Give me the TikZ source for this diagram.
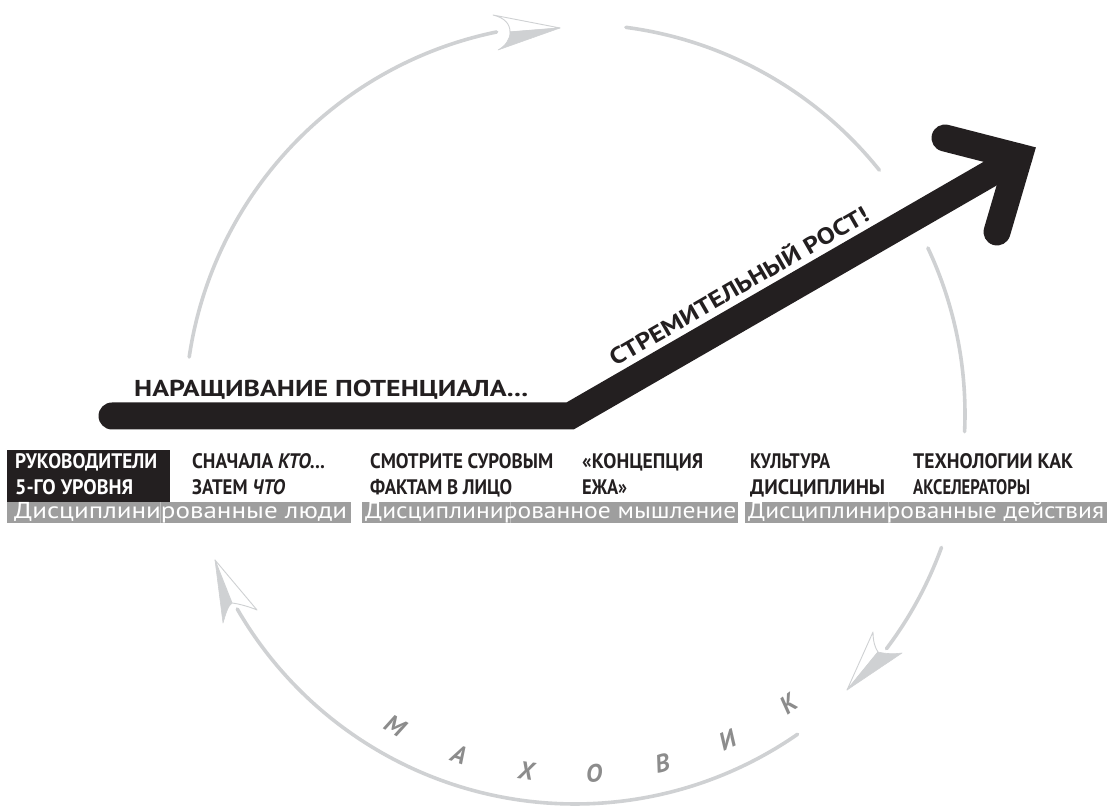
\documentclass[tikz,border=0pt]{standalone}
\usepackage{fontspec}
\setmainfont{PT Sans}
\usepackage{graphicx}
\definecolor{arcgray}{HTML}{CFD1D3}
\definecolor{bargray}{HTML}{9E9E9E}
\definecolor{lettergray}{HTML}{8C8C8C}
\definecolor{ink}{HTML}{231F20}
\newcommand\fitw[2]{\resizebox{#1pt}{\height}{#2}}
\begin{document}
\begin{tikzpicture}[x=1pt,y=1pt,
  flyarc/.style={draw=arcgray, line width=3.6pt, line cap=round},
  headfill/.style={fill=arcgray, draw=arcgray, line width=0.6pt, line join=round},
  headline/.style={draw=arcgray, line width=0.9pt, line join=round, fill=white},
  lab/.style={anchor=base west, inner sep=0pt, font=\bfseries\fontsize{21}{21}\selectfont, text=ink},
  wlab/.style={lab, text=white},
  bartext/.style={anchor=base west, inner sep=0pt, font=\fontsize{23}{23}\selectfont, text=white},
  barbox/.style={fill=bargray, draw=none},
  seam/.style={draw=white, line width=0.8pt, opacity=0.35},
  mletter/.style={inner sep=0pt, font=\bfseries\itshape\fontsize{25}{25}\selectfont, text=lettergray},
  bigarrow/.style={draw=ink, line width=27pt},
]
\useasboundingbox (0,0) rectangle (1107,805);

% ---------- flywheel circle ----------
\coordinate (C) at (575,391);
\path (C) ++(171.6:390) coordinate (a1s);
\path (C) ++(82.5:390) coordinate (a2s);
\path (C) ++(25.2:390) coordinate (a3s);
\path (C) ++(-20:390) coordinate (a4s);
\path (C) ++(-55.2:390) coordinate (a5s);
\draw[flyarc] (a1s) arc[start angle=171.6, end angle=101.6, radius=390];
\draw[flyarc] (a2s) arc[start angle=82.5, end angle=38.7, radius=390];
\draw[flyarc] (a3s) arc[start angle=25.2, end angle=-2.6, radius=390];
\draw[flyarc] (a4s) arc[start angle=-20, end angle=-37, radius=390];
\draw[flyarc] (a5s) arc[start angle=-55.2, end angle=-150, radius=390];

% top arrowhead
\coordinate (t1) at (560,777); \coordinate (u1) at (493,790);
\coordinate (n1) at (510,773); \coordinate (l1) at (498,755);
\path[headline] (t1) -- (u1) .. controls (505,787) and (510,781) .. (n1) -- cycle;
\path[headfill] (t1) -- (n1) .. controls (510,765) and (505,759) .. (l1) -- cycle;

% left arrowhead
\coordinate (t2) at (215,245); \coordinate (l2) at (223,182);
\coordinate (n2) at (232,202); \coordinate (r2) at (257,195);
\path[headfill] (t2) -- (l2) .. controls (226,192) and (228,199) .. (n2) -- cycle;
\path[headline] (t2) -- (n2) .. controls (240,201) and (250,198) .. (r2) -- cycle;

% lower right arrowhead
\coordinate (t3) at (847,115); \coordinate (a3) at (873,173);
\coordinate (n3) at (878,153); \coordinate (b3) at (902,152);
\path[headline] (t3) -- (a3) .. controls (873,164) and (875,157) .. (n3) -- cycle;
\path[headfill] (t3) -- (n3) .. controls (886,151) and (895,151) .. (b3) -- cycle;

% letters
\foreach \ch/\ang [count=\i] in {М/-120, А/-108.8, Х/-97.8, О/-87, В/-76, И/-65, К/-53.7}
  \node[mletter, rotate=\ang+90] (m\i) at ([shift={(\ang:360)}]C) {\ch};

% ---------- big black arrow ----------
\coordinate (s0) at (112,389);
\coordinate (bend) at (570,389);
\coordinate (corner) at (1019,648);
\coordinate (hb1) at (945,667);
\coordinate (hb2) at (997,573);
\draw[bigarrow, line cap=round, line join=miter] (s0) -- (bend) -- (corner);
\draw[bigarrow, line cap=round, line join=miter] (hb1) -- (corner) -- (hb2);

\node[lab, font=\bfseries\fontsize{23}{23}\selectfont] (build) at (134,408)
  {\fitw{394}{НАРАЩИВАНИЕ ПОТЕНЦИАЛА...}};
\node[lab, font=\bfseries\fontsize{23}{23}\selectfont, rotate=29.97] (breakthrough) at (615,438)
  {\fitw{295}{СТРЕМИТЕЛЬНЫЙ РОСТ!}};

% ---------- bottom labels ----------
\fill[ink] (7,303) rectangle (170,355);
\node[wlab] (l11) at (15,336) {\fitw{142}{РУКОВОДИТЕЛИ}};
\node[wlab] (l12) at (15,310) {\fitw{118}{5-ГО УРОВНЯ}};
\node[lab] (l21) at (192,336) {\fitw{133}{СНАЧАЛА \textit{КТО...}}};
\node[lab] (l22) at (192,310) {\fitw{93}{ЗАТЕМ \textit{ЧТО}}};
\node[lab] (l31) at (370,336) {\fitw{183}{СМОТРИТЕ СУРОВЫМ}};
\node[lab] (l32) at (370,310) {\fitw{142}{ФАКТАМ В ЛИЦО}};
\node[lab] (l41) at (582,336) {\fitw{121}{«КОНЦЕПЦИЯ}};
\node[lab] (l42) at (582,310) {\fitw{45}{ЕЖА»}};
\node[lab] (l51) at (750,336) {\fitw{80}{КУЛЬТУРА}};
\node[lab] (l52) at (750,310) {\fitw{135}{ДИСЦИПЛИНЫ}};
\node[lab] (l61) at (913,336) {\fitw{160}{ТЕХНОЛОГИИ КАК}};
\node[lab] (l62) at (913,310) {\fitw{117}{АКСЕЛЕРАТОРЫ}};

% ---------- grey bars ----------
\fill[barbox] (7,282) rectangle (351,303);
\fill[barbox] (362,282) rectangle (738,303);
\fill[barbox] (745,282) rectangle (1107,303);
\node[bartext] (b1) at (14,286) {\fitw{333}{Дисциплинированные люди}};
\node[bartext] (b2) at (365,286) {\fitw{371}{Дисциплинированное мышление}};
\node[bartext] (b3) at (748,286) {\fitw{356}{Дисциплинированные действия}};
\draw[seam] (160,282) -- (160,303);
\draw[seam] (510,282) -- (510,303);
\draw[seam] (888,282) -- (888,303);
\end{tikzpicture}
\end{document}
